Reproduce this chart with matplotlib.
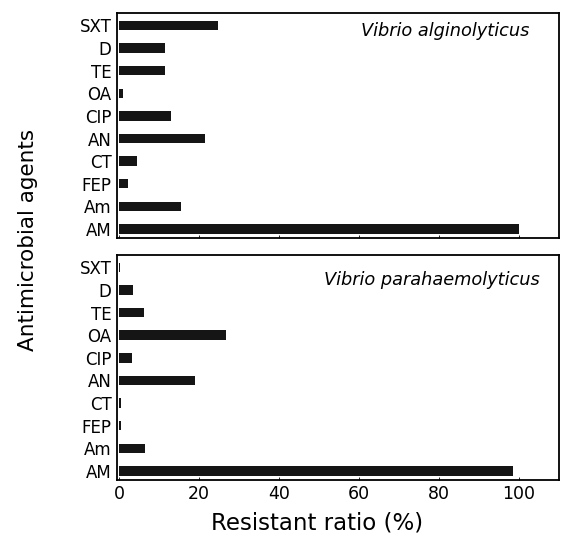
import numpy as np
import matplotlib.pyplot as plt

plt.rcParams['font.family'] = ['DejaVu Sans']

agents = ['AM', 'Am', 'FEP', 'CT', 'AN', 'CIP', 'OA', 'TE', 'D', 'SXT']
alginolyticus = [100, 15.6, 2.3, 4.6, 21.4, 12.9, 1.1, 11.4, 11.4, 24.8]
parahaemolyticus = [98.5, 6.5, 0.5, 0.5, 19.0, 3.2, 26.7, 6.3, 3.5, 0.3]
xticks = [0, 20, 40, 60, 80, 100]

fig = plt.figure(figsize=(5.61, 5.39), dpi=100)
ax1 = fig.add_axes([0.2086, 0.5584, 0.7878, 0.4175])
ax2 = fig.add_axes([0.2086, 0.1095, 0.7878, 0.4175])

# name, text position in axes fraction
panels = [(ax1, alginolyticus, 'Vibrio alginolyticus', 0.934, 0.92),
          (ax2, parahaemolyticus, 'Vibrio parahaemolyticus', 0.957, 0.889)]

for ax, vals, name, tx, ty in panels:
    y = np.arange(len(agents))
    ax.barh(y, vals, height=0.42, color='#151515')
    ax.set_yticks(y)
    ax.set_yticklabels(agents, fontsize=12)
    ax.set_ylim(-0.4, 9.55)
    ax.set_xlim(-0.5, 110)
    ax.set_xticks(xticks)
    ax.tick_params(axis='y', length=0, pad=4)
    ax.tick_params(axis='x', direction='in', length=2, width=0.6, labelsize=12.5)
    for s in ax.spines.values():
        s.set_linewidth(1.3)
    ax.text(tx, ty, name, transform=ax.transAxes, ha='right', va='center',
            fontsize=12.8, style='italic')

ax1.tick_params(axis='x', labelbottom=False)
fig.text(0.565, 0.030, 'Resistant ratio (%)', ha='center', va='center', fontsize=16.5)
fig.text(0.05, 0.555, 'Antimicrobial agents', rotation=90, ha='center', va='center',
         fontsize=15.5)

fig.savefig('out.png', dpi=100)
